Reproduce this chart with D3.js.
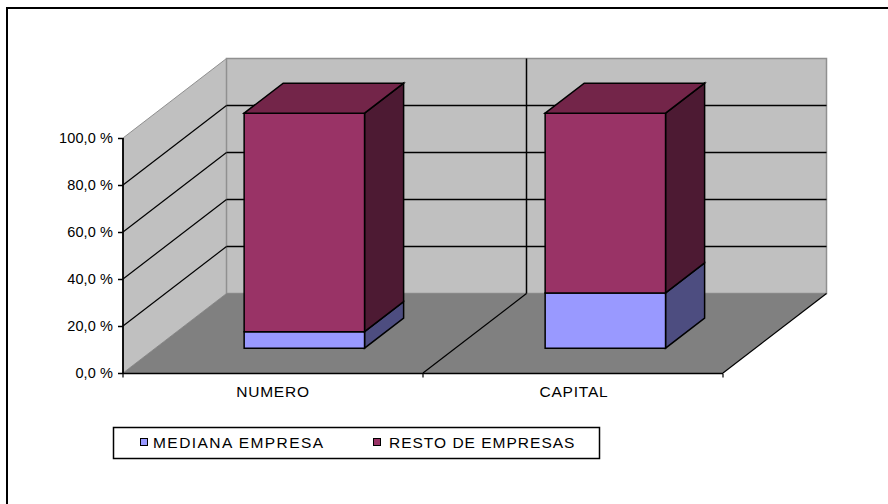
<!DOCTYPE html>
<html><head><meta charset="utf-8">
<script src="https://cdnjs.cloudflare.com/ajax/libs/d3/7.8.5/d3.min.js"></script>
<style>html,body{margin:0;background:#fff}svg{display:block}text{font-family:"Liberation Sans",Arial,sans-serif;fill:#000}</style>
</head><body><div id="c"></div>
<script>
const categories = ["NUMERO", "CAPITAL"];
const seriesNames = ["MEDIANA EMPRESA", "RESTO DE EMPRESAS"];
const mediana = [7, 23.5];
const resto = [93, 76.5];
const tickValues = [0, 20, 40, 60, 80, 100];
const tickFmt = d => d.toFixed(1).replace(".", ",") + " %";
const front = ["#9999ff", "#993366"], side = ["#4d4d80", "#4d1a33"], top_ = ["#4d4d80", "#732549"];

const svg = d3.select("#c").append("svg").attr("width", 888).attr("height", 504);

const seg = (a, b, sw, col) => svg.append("line").attr("x1", a[0]).attr("y1", a[1]).attr("x2", b[0]).attr("y2", b[1]).attr("stroke", col || "#000").attr("stroke-width", sw || 1);
// outer frame: only the top and left edges are inside the picture
seg([6, 8], [888, 8], 2);
seg([7, 7], [7, 504], 2);

const x = d3.scaleBand().domain(categories).range([121.5, 723.5]).paddingInner(0.6).paddingOuter(0.3);
const y = d3.scaleLinear().domain([0, 100]).range([373, 138]);
const dz = d3.scaleLinear().domain([0, 1]).range([[0, 0], [103.5, -79.5]]);
const P = (px, v, t) => { const o = dz(t); return [px + o[0], y(v) + o[1]]; };
const line = d3.line();
const poly = (pts, fill, stroke, sw) => svg.append("path").attr("d", line(pts) + "Z").attr("fill", fill)
  .attr("stroke", stroke || "none").attr("stroke-width", sw || 1).attr("stroke-linejoin", "miter");

const x0 = 123, x1 = 723, xm = 423;
poly([P(x0,0,0), P(x0,100,0), P(x0,100,1), P(x0,0,1)], "#c0c0c0", "#909090");
poly([P(x0,0,1), P(x0,100,1), P(x1,100,1), P(x1,0,1)], "#c0c0c0", "#909090", 1.5);
poly([P(x0,0,0), P(x0,0,1), P(x1,0,1), P(x1,0,0)], "#808080");

tickValues.filter(v => v > 0 && v < 100).forEach(v => {
  seg(P(x0,v,0), P(x0,v,1), 1.2); seg(P(x0,v,1), P(x1,v,1), 1.5);
});
seg(P(xm,0,0), P(xm,0,1), 1.2); seg(P(xm,0,1), P(xm,100,1), 1.5);
seg(P(x1,0,0), P(x1,0,1), 1.2);

// axes
const yAxis = d3.axisLeft(y).tickValues(tickValues).tickFormat(tickFmt).tickSize(5);
const gy = svg.append("g").attr("transform", `translate(${x0},0)`).call(yAxis);
gy.selectAll("text").attr("font-size", 14.5).attr("x", -10).attr("dy", "0.3em").attr("font-family", "Liberation Sans").style("letter-spacing", "0.1px");
gy.selectAll("line").attr("stroke", "#000").attr("stroke-width", 1.5);
gy.select(".domain").attr("stroke", "#000").attr("stroke-width", 1.8).attr("d", `M0,${y(100)}V${y(0)}`);
const xAxis = d3.axisBottom(x).tickSize(0);
const gx = svg.append("g").attr("transform", "translate(0,373.5)").call(xAxis);
gx.select(".domain").attr("stroke", "#000").attr("stroke-width", 1.5).attr("d", `M${x0},0H${x1}`);
gx.selectAll("text").attr("font-size", 15.5).attr("y", 12).attr("dx", 1).style("letter-spacing", "0.8px");
[x0, xm, x1].forEach(px => seg([px, 373.5], [px, 377.5], 1.2));

// bars
const tA = 0.3125, tB = 0.69;
categories.forEach((c, i) => {
  const a = x(c), b = a + x.bandwidth();
  const stacks = [[0, mediana[i]], [mediana[i], mediana[i] + resto[i]]];
  stacks.forEach(([lo, hi], k) => {
    poly([P(b,lo,tA), P(b,hi,tA), P(b,hi,tB), P(b,lo,tB)], side[k], "#000", 1.5);
    poly([P(a,lo,tA), P(a,hi,tA), P(b,hi,tA), P(b,lo,tA)], front[k], "#000", 1.5);
  });
  poly([P(a,100,tA), P(a,100,tB), P(b,100,tB), P(b,100,tA)], top_[1], "#000", 1.5);
});

// legend
svg.append("rect").attr("x", 113.5).attr("y", 427.5).attr("width", 486).attr("height", 31).attr("fill", "#fff").attr("stroke", "#000").attr("stroke-width", 1.5);
const lx = [140, 373], tx = [153, 389], ls = [1.45, 1.0];
seriesNames.forEach((n, i) => {
  svg.append("rect").attr("x", lx[i]+0.5).attr("y", 438.5).attr("width", 7).attr("height", 7).attr("fill", front[i]).attr("stroke", "#000");
  svg.append("text").attr("x", tx[i]).attr("y", 447.5).attr("font-size", 15.5).style("letter-spacing", ls[i] + "px").text(n);
});
</script></body></html>
